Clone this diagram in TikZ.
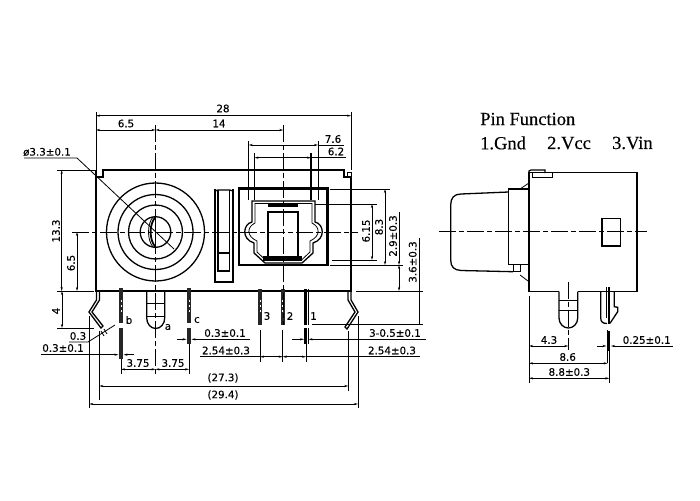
\documentclass[tikz,border=0pt]{standalone}
\usepackage{fontspec}
\setmainfont[FakeBold=0.25]{DejaVu Sans}
\newfontfamily\pinfont[FakeBold=0.3]{Liberation Serif}
\usetikzlibrary{arrows.meta}

\tikzset{
	body/.style={black,line width=1.3pt},
	fine/.style={black,line width=.8pt},
	heavy/.style={black,line width=1.8pt},
	centreline/.style={black,line width=.9pt,dash pattern=on 17pt off 3pt on 5pt off 3pt},
	dimline/.style={black,line width=.8pt,{Stealth[length=4pt,width=2.2pt]}-{Stealth[length=4pt,width=2.2pt]}},
	dimstart/.style={black,line width=.8pt,{Stealth[length=4pt,width=2.2pt]}-},
	dimend/.style={black,line width=.8pt,-{Stealth[length=4pt,width=2.2pt]}},
	dimtext/.style={inner sep=0pt,font=\fontsize{10.3}{11}\selectfont},
	pintext/.style={inner sep=0pt,font=\pinfont\fontsize{18.5}{20}\selectfont},
	pinmark/.style={black!85,line width=4pt},
	pingap/.style={white,line width=1pt,dash pattern=on 2pt off 3pt}
}

\begin{document}
\begin{tikzpicture}[x=1pt,y=-1pt]
	\useasboundingbox (0,0) rectangle (700,500);
	% front view: body
	\draw [body] (96,170) -- (96,291) -- (351,291) -- (351,177) -- (344,177) -- (344,170) -- (103,170) -- (103,177) -- (97,177);
	\draw [fine] (347,172) rectangle (351,177);
	% jack
	\foreach \r in {49,37.5,27,15.3}
		\draw [body] (155.5,232) circle (\r);
	\draw [heavy] (155.5,217) .. controls (149,224) and (149,240) .. (155.5,247);
	\draw [fine] (153,217) .. controls (147,224) and (147,240) .. (153,247);
	\draw [body] (155.5,217) -- (155.5,247);
	% slot
	\draw [body] (215,189) -- (215,282) -- (233,282) -- (233,189);
	\draw [body] (218,190) -- (218,271) -- (229.5,271) -- (229.5,190);
	\draw [body] (215,191) -- (218,190) -- (229.5,190) -- (233,191);
	\draw [body] (218,253) -- (229.5,253);
	% optical port
	\draw [black,line width=2.2pt] (239,188.5) rectangle (327.5,265);
	\draw [body] (252,201) -- (252,222) .. controls (243,224) and (241,239) .. (254,243) -- (254,253) -- (265,263) -- (302,263) -- (313,253) -- (313,243) .. controls (326,239) and (324,224) .. (315,222) -- (315,201) -- cycle;
	\draw [fine] (255,203.5) -- (255,223) .. controls (247,227) and (246,236) .. (257,241) -- (257,252) -- (266,260.5) -- (301,260.5) -- (310,252) -- (310,241) .. controls (321,236) and (320,227) .. (312,223) -- (312,203.5) -- cycle;
	\fill (268,203) rectangle (298,207);
	\fill (263,256) rectangle (302,261);
	\draw [body] (268,256) -- (268,212) -- (298,212) -- (298,256);
	% hooks
	\draw [body] (96.5,291) -- (96.5,300) -- (89,312) -- (101,328) -- (103,326) -- (92,312) -- (99.5,300) -- (99.5,291);
	\draw [body] (348,291) -- (348,300) -- (355,312) -- (345,327) -- (347,329) -- (358,312) -- (351,300) -- (351,291);
	% pins
	\foreach \x/\ytop/\ybot in {121/288/323,189/288/323,260/289/325,282.7/289/325}{
		\draw [pinmark] (\x,\ytop) -- (\x,\ybot);
		\draw [pingap] (\x,300) -- (\x,312);
	}
	\draw [black,line width=2pt] (306,289) -- (306,325);
	\draw [fine] (304,289) -- (304,325) (308.5,289) -- (308.5,325);
	\draw [pinmark] (121,328) -- (121,359);
	\draw [pinmark] (189,328) -- (189,344);
	\draw [black,line width=2pt] (306,328) -- (306,344);
	\draw [fine] (304,328) -- (304,344) (308.5,328) -- (308.5,344);
	\draw [body] (146.7,291) -- (146.7,318) arc (180:0:9 and 10.5) -- (164.7,291);
	\draw [fine] (146.7,303) -- (164.7,303) (146.7,316.5) -- (164.7,316.5);
	% centre lines
	\draw [centreline] (72,232) -- (358,232);
	\draw [centreline] (155.5,125) -- (155.5,375);
	\draw [centreline] (283.3,125) -- (283.3,325);
	% extension lines front view
	\draw [fine] (96,112) -- (96,170) (351,112) -- (351,170);
	\draw [fine] (57,170) -- (96,170) (57,291) -- (94,291) (57,328) -- (94,328);
	\draw [fine] (248.7,141) -- (248.7,200) (318,141) -- (318,200);
	\draw [body] (254.5,153) -- (254.5,200) (311,153) -- (311,200);
	\draw [fine] (330,189) -- (390,189) (330,265) -- (403,265);
	\draw [fine] (315,204) -- (377,204) (332,260) -- (377,260);
	\draw [fine] (356,291) -- (423,291) (312,324) -- (423,324);
	\draw [fine] (260,330) -- (260,362) (282.7,330) -- (282.7,362) (306,344) -- (306,362);
	\draw [fine] (121,359) -- (121,374) (189,344) -- (189,374);
	\draw [fine] (99.3,331) -- (99.3,400) (348.3,331) -- (348.3,391);
	\draw [fine] (89.3,316) -- (89.3,408) (358,316) -- (358,408);
	% dimensions front view
	\draw [dimline] (96,115.7) -- (351,115.7);
	\draw [dimline] (96,130) -- (155.5,130);
	\draw [dimline] (155.5,130) -- (283.3,130);
	\draw [dimline] (248.7,145) -- (318,145);
	\draw [fine] (318,145) -- (344,145);
	\draw [dimline] (254.5,157.7) -- (311,157.7);
	\draw [fine] (311,157.7) -- (346,157.7);
	\draw [dimline] (61.7,170) -- (61.7,291);
	\draw [dimline] (77,232) -- (77,291);
	\draw [dimline] (62,291) -- (62,328);
	\draw [dimline] (372,204) -- (372,260);
	\draw [dimline] (385,189) -- (385,265);
	\draw [dimstart] (399,265) -- (399,212);
	\draw [dimline] (399,265) -- (399,291);
	\draw [fine] (419,238) -- (419,324);
	\draw [dimline] (121,369.3) -- (155.5,369.3);
	\draw [dimline] (155.5,369.3) -- (189,369.3);
	\draw [dimline] (260,356.7) -- (282.7,356.7);
	\draw [dimline] (282.7,356.7) -- (306,356.7);
	\draw [fine] (200,356.7) -- (260,356.7) (306,356.7) -- (420,356.7);
	\draw [dimend] (177,339.3) -- (186.5,339.3);
	\draw [dimstart] (191.5,339.3) -- (250,339.3);
	\draw [dimend] (292,339.3) -- (304,339.3);
	\draw [dimstart] (308.5,339.3) -- (426,339.3);
	\draw [dimend] (41,354.7) -- (118.5,354.7);
	\draw [dimstart] (123.5,354.7) -- (134,354.7);
	\draw [dimline] (99.3,386) -- (348.3,386);
	\draw [dimline] (89.3,404) -- (358,404);
	% leaders
	\draw [fine] (24,158) -- (77,158) -- (174,249);
	\draw [fine] (69,342) -- (88,342) -- (115,325);
	\draw [fine] (101,331) -- (104,336) (104,329) -- (107,334);
	% side view
	\draw [body] (529,291.7) -- (529,172.7) -- (637,172.7) -- (637,291.7) -- (577.7,291.7);
	\draw [body] (559,291.7) -- (529,291.7);
	\draw [fine] (614.3,291.7) -- (637,291.7);
	\draw [body] (529,172.7) -- (529,171) -- (531,170) -- (545,170) -- (545,173);
	\draw [fine] (532,173) -- (532,177) -- (552,177) -- (552,173);
	\draw [body] (529,189) -- (508.7,189) -- (508.7,264.7) -- (529,264.7);
	\draw [body] (508.7,192) -- (461,194) .. controls (454,194) and (450.7,198) .. (450.7,205) -- (450.7,260) .. controls (450.7,267) and (454,270) .. (461,270.5) -- (513,271.7);
	\draw [fine] (513,264.7) -- (513,271.7) -- (520,271.7) -- (520,264.7);
	\draw [fine] (520,189) -- (529,183) (520,275) -- (529,281.7);
	\draw [body] (602,218.7) rectangle (620.3,246);
	\draw [centreline] (439,231.7) -- (647,231.7);
	% side view pins
	\draw [body] (559,291.7) -- (559,318) arc (180:0:9.35 and 10) -- (577.7,291.7);
	\draw [fine] (559,300.7) -- (577.7,300.7) (559,310) -- (577.7,310);
	\draw [centreline] (568.3,281.7) -- (568.3,350);
	\draw [body] (600.7,291.7) -- (600.7,318) .. controls (600.7,322) and (603,323.5) .. (607,323.5);
	\draw [body] (614.3,291.7) -- (614.3,306.7) -- (617.7,307.3) -- (617.7,311.7) -- (610,323.3);
	\draw [fine] (606,287) -- (606,318);
	\draw [black,line width=2.6pt] (609,287) -- (609,324);
	\draw [black,line width=2.6pt] (609,331) -- (609,351);
	% side view dimensions
	\draw [fine] (529,296) -- (529,383) (609.3,351) -- (609.3,383) (607.7,330) -- (607.7,363);
	\draw [dimline] (529,346) -- (568.3,346);
	\draw [dimline] (529,363.3) -- (607.7,363.3);
	\draw [dimline] (529,378.3) -- (609.3,378.3);
	\draw [dimend] (597,346) -- (606.5,346);
	\draw [dimstart] (611,346) -- (672.7,346);
	% labels
	\node [dimtext] (lbl28) at (223,108.5) {28};
	\node [dimtext] (lblA) at (126,123.5) {6.5};
	\node [dimtext] (lblB) at (219,123.5) {14};
	\node [dimtext] (lblC) at (333,139) {7.6};
	\node [dimtext] (lblD) at (336,151.5) {6.2};
	\node [dimtext] (lblHole) at (47,152) {ø3.3±0.1};
	\node [dimtext,rotate=90] (lblE) at (56,231) {13.3};
	\node [dimtext,rotate=90] (lblF) at (71,263) {6.5};
	\node [dimtext,rotate=90] (lblG) at (56,311) {4};
	\node [dimtext,rotate=90] (lblH) at (366,231) {6.15};
	\node [dimtext,rotate=90] (lblI) at (379,227) {8.3};
	\node [dimtext,rotate=90] (lblJ) at (393,236) {2.9±0.3};
	\node [dimtext,rotate=90] (lblK) at (412.7,262) {3.6±0.3};
	\node [dimtext] (lblPinB) at (129,320) {b};
	\node [dimtext] (lblPinA) at (168,327) {a};
	\node [dimtext] (lblPinC) at (197,320) {c};
	\node [dimtext] (lblPin3) at (267,316) {3};
	\node [dimtext] (lblPin2) at (290,316) {2};
	\node [dimtext] (lblPin1) at (313.5,316) {1};
	\node [dimtext] (lblL) at (78,336) {0.3};
	\node [dimtext] (lblM) at (63,348) {0.3±0.1};
	\node [dimtext] (lblN) at (225,333) {0.3±0.1};
	\node [dimtext] (lblO) at (226,350.5) {2.54±0.3};
	\node [dimtext] (lblP) at (395,333) {3-0.5±0.1};
	\node [dimtext] (lblQ) at (392,350.5) {2.54±0.3};
	\node [dimtext] (lblR) at (138,363) {3.75};
	\node [dimtext] (lblS) at (173,363) {3.75};
	\node [dimtext] (lblT) at (223,378) {(27.3)};
	\node [dimtext] (lblU) at (223,395) {(29.4)};
	\node [dimtext] (lblV) at (549,340) {4.3};
	\node [dimtext] (lblW) at (646.7,340) {0.25±0.1};
	\node [dimtext] (lblX) at (567.7,357) {8.6};
	\node [dimtext] (lblY) at (569.3,372) {8.8±0.3};
	\node [pintext,anchor=west] (lblTitle) at (480,119) {Pin Function};
	\node [pintext,anchor=west] (lblGnd) at (480,143) {1.Gnd};
	\node [pintext,anchor=west] (lblVcc) at (547,143) {2.Vcc};
	\node [pintext,anchor=west] (lblVin) at (612,143) {3.Vin};
\end{tikzpicture}
\end{document}
